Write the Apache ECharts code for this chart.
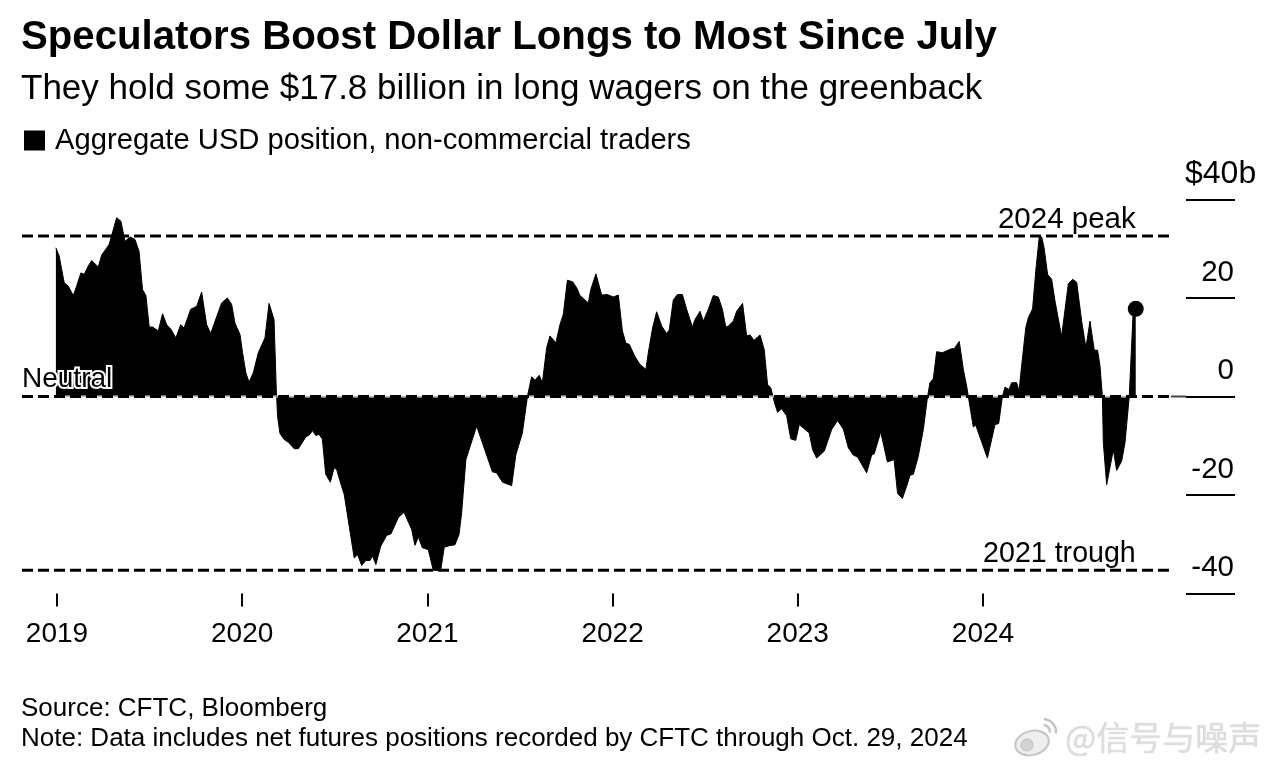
<!DOCTYPE html>
<html>
<head>
<meta charset="utf-8">
<title>Speculators Boost Dollar Longs</title>
<script src="https://cdn.jsdelivr.net/npm/echarts@6/dist/echarts.min.js"></script>
<style>
    html, body { margin: 0; padding: 0; background: #fff; }
    #chart { width: 1276px; height: 770px; }
</style>
</head>
<body>
<div id="chart"></div>
<script>
// x is a decimal year
var years = [
    2018.994, 2019.012, 2019.025, 2019.039, 2019.061, 2019.088, 2019.106, 2019.129, 2019.147, 2019.169,
    2019.187, 2019.223, 2019.241, 2019.282, 2019.322, 2019.345, 2019.367, 2019.394, 2019.421, 2019.443,
    2019.462, 2019.480, 2019.498, 2019.516, 2019.547, 2019.570, 2019.592, 2019.614, 2019.642, 2019.668,
    2019.686, 2019.722, 2019.754, 2019.781, 2019.808, 2019.830, 2019.840, 2019.889, 2019.920, 2019.943,
    2019.961, 2019.988, 2020.002, 2020.020, 2020.037, 2020.060, 2020.087, 2020.123, 2020.145, 2020.154,
    2020.172, 2020.184, 2020.186, 2020.191, 2020.204, 2020.226, 2020.249, 2020.281, 2020.303, 2020.344,
    2020.366, 2020.379, 2020.397, 2020.416, 2020.433, 2020.451, 2020.476, 2020.496, 2020.510, 2020.542,
    2020.551, 2020.605, 2020.623, 2020.645, 2020.668, 2020.690, 2020.704, 2020.722, 2020.748, 2020.780,
    2020.803, 2020.843, 2020.874, 2020.915, 2020.933, 2020.951, 2020.973, 2021.005, 2021.032, 2021.072,
    2021.091, 2021.118, 2021.149, 2021.171, 2021.185, 2021.208, 2021.266, 2021.275, 2021.351, 2021.374,
    2021.406, 2021.455, 2021.478, 2021.513, 2021.541, 2021.563, 2021.581, 2021.604, 2021.621, 2021.644,
    2021.662, 2021.694, 2021.716, 2021.734, 2021.756, 2021.784, 2021.806, 2021.824, 2021.869, 2021.882,
    2021.910, 2021.919, 2021.941, 2021.972, 2022.004, 2022.031, 2022.053, 2022.072, 2022.090, 2022.121,
    2022.148, 2022.180, 2022.193, 2022.216, 2022.238, 2022.265, 2022.292, 2022.306, 2022.328, 2022.350,
    2022.377, 2022.400, 2022.431, 2022.445, 2022.472, 2022.490, 2022.517, 2022.544, 2022.571, 2022.593,
    2022.611, 2022.625, 2022.652, 2022.670, 2022.702, 2022.724, 2022.742, 2022.764, 2022.774, 2022.796,
    2022.819, 2022.837, 2022.854, 2022.866, 2022.877, 2022.891, 2022.913, 2022.940, 2022.962, 2022.989,
    2023.008, 2023.062, 2023.080, 2023.102, 2023.143, 2023.183, 2023.215, 2023.246, 2023.273, 2023.300,
    2023.323, 2023.372, 2023.399, 2023.413, 2023.448, 2023.484, 2023.520, 2023.539, 2023.565, 2023.588,
    2023.606, 2023.624, 2023.651, 2023.678, 2023.701, 2023.714, 2023.732, 2023.750, 2023.781, 2023.831,
    2023.845, 2023.872, 2023.894, 2023.912, 2023.921, 2023.934, 2023.948, 2023.961, 2024.024, 2024.047,
    2024.065, 2024.085, 2024.105, 2024.119, 2024.141, 2024.155, 2024.182, 2024.195, 2024.204, 2024.231,
    2024.245, 2024.268, 2024.286, 2024.304, 2024.317, 2024.330, 2024.349, 2024.371, 2024.389, 2024.421,
    2024.425, 2024.461, 2024.484, 2024.506, 2024.533, 2024.556, 2024.578, 2024.601, 2024.619, 2024.632,
    2024.645, 2024.650, 2024.668, 2024.704, 2024.722, 2024.749, 2024.767, 2024.785, 2024.790, 2024.810,
    2024.825
];
var positions = [
    30.2, 28.5, 25.8, 23.1, 22.4, 20.5, 22.4, 25.1, 24.8, 26.5,
    27.6, 26.3, 28.7, 30.9, 36.3, 35.6, 31.5, 32.4, 31.9, 29.5,
    21.7, 20.5, 14.1, 14.1, 13.3, 16.8, 14.6, 13.7, 11.9, 14.6,
    13.9, 17.7, 18.3, 21.2, 14.6, 12.8, 12.8, 19.0, 20.0, 18.7,
    14.9, 12.6, 8.9, 4.8, 2.9, 4.8, 8.9, 11.9, 18.9, 18.9,
    15.6, 1.4, 0, -4.0, -7.5, -8.7, -9.3, -10.6, -10.6, -8.2,
    -7.7, -6.9, -7.9, -7.7, -8.7, -15.8, -17.4, -14.5, -14.8, -18.9,
    -19.9, -32.8, -32.1, -34.3, -33.3, -33.3, -32.4, -34.1, -30.4, -28.2,
    -27.9, -24.6, -23.5, -27.0, -30.2, -28.5, -30.7, -31.1, -35.3, -35.3,
    -30.6, -30.3, -30.1, -28.0, -23.6, -12.8, -6.0, -6.0, -15.3, -15.5,
    -17.4, -18.1, -11.8, -7.4, 0.2, 4.0, 3.3, 4.3, 2.8, 9.9,
    12.3, 10.9, 14.6, 16.7, 23.6, 23.3, 22.1, 20.5, 19.0, 21.7,
    24.9, 24.8, 20.6, 20.7, 20.2, 20.6, 13.3, 10.8, 10.6, 8.1,
    6.5, 5.5, 8.9, 13.9, 17.2, 14.3, 12.8, 13.5, 19.6, 20.7,
    20.7, 17.7, 14.1, 15.6, 17.3, 15.3, 17.7, 20.5, 20.2, 17.7,
    14.1, 14.3, 15.3, 17.3, 18.9, 12.3, 12.5, 11.4, 11.6, 12.5,
    9.5, 2.4, 1.8, 0, -1.6, -3.2, -2.5, -3.9, -8.6, -8.9,
    -5.7, -7.4, -10.8, -12.5, -11.1, -6.7, -4.9, -6.6, -10.4, -11.9,
    -12.3, -15.5, -11.9, -11.6, -7.2, -13.3, -12.8, -19.7, -20.7, -18.2,
    -16.0, -15.8, -12.1, -6.7, 0, 2.8, 3.6, 9.1, 8.9, 9.7,
    9.7, 11.2, 5.5, 2.1, 0, -3.0, -6.2, -5.8, -12.5, -8.7,
    -5.7, -5.5, 0, 1.9, 1.4, 2.8, 2.8, 1.1, 4.5, 13.9,
    16.0, 17.8, 25.8, 32.4, 32.4, 30.2, 24.8, 23.8, 19.4, 12.9,
    12.3, 22.9, 23.8, 23.2, 15.3, 9.9, 15.3, 9.4, 9.4, 6.2,
    0, -9.4, -17.9, -10.8, -15.0, -13.1, -9.4, -2.0, 0, 16.3,
    17.8
];
var yearTicks = [2019, 2020, 2021, 2022, 2023, 2024];
var valueTicks = [-40, -20, 0, 20, 40];
var peakValue = 32.6;
var troughValue = -35.3;
var lastYear = 2024.825;
var lastValue = 17.8;

var xMin = 2018.811;
var xMax = 2025.361;
var lineEnd = 2025.015;
var railEnd = 2025.097;

var FONT = '"Liberation Sans", Arimo, Helvetica, Arial, sans-serif';
var LEGEND_NAME = 'Aggregate USD position, non-commercial traders';

var areaData = [];
for (var i = 0; i < years.length; i++) {
    areaData.push([years[i], positions[i]]);
}

// dashed reference line helper
function dashLine(value, end) {
    return {
        type: 'line',
        silent: true,
        symbol: 'none',
        z: 4,
        lineStyle: { color: '#000', width: 3, type: [11, 5] },
        data: [[xMin, value], [end, value]]
    };
}

// text tied to a data point, no marker drawn
function noteLabel(text, x, y, pos, align, size, gap, halo) {
    return {
        type: 'scatter',
        silent: true,
        symbolSize: 0,
        z: 6,
        itemStyle: { opacity: 1 },
        data: [[x, y]],
        label: {
            show: true,
            position: pos,
            distance: gap,
            align: align,
            opacity: 1,
            formatter: text,
            fontFamily: FONT,
            fontSize: size,
            color: '#000',
            textBorderColor: halo ? '#fff' : 'transparent',
            textBorderWidth: halo ? 4 : 0
        }
    };
}

function textBlock(text, left, top, size, weight) {
    return {
        text: text,
        left: left,
        top: top,
        padding: 0,
        textStyle: { fontFamily: FONT, fontSize: size, fontWeight: weight, color: '#000' }
    };
}

var chart = echarts.init(document.getElementById('chart'));
chart.setOption({
    animation: false,
    backgroundColor: '#fff',
    textStyle: { fontFamily: FONT },
    title: [
        textBlock('Speculators Boost Dollar Longs to Most Since July', 21, 18, 40.2, 'bold'),
        textBlock('They hold some $17.8 billion in long wagers on the greenback', 21, 72, 35, 'normal'),
        textBlock('$40b', 1185, 158, 32, 'normal'),
        textBlock('Source: CFTC, Bloomberg', 21, 696, 26, 'normal'),
        textBlock('Note: Data includes net futures positions recorded by CFTC through Oct. 29, 2024', 21, 726, 26, 'normal'),
        {
            text: '@信号与噪声',
            left: 1065,
            top: 721,
            padding: 0,
            textStyle: {
                fontFamily: '"Noto Sans CJK SC"',
                fontSize: 33,
                fontWeight: 'normal',
                color: '#dedede',
                textShadowColor: '#c4c4c4',
                textShadowBlur: 1
            }
        }
    ],
    // weibo mark next to the watermark
    graphic: [
        { type: 'ellipse', shape: { cx: 1032, cy: 743, rx: 17, ry: 12 }, style: { fill: '#eeeeee', stroke: '#c4c4c4', lineWidth: 2 }, rotation: 0.25, originX: 1032, originY: 743 },
        { type: 'circle', shape: { cx: 1027, cy: 745, r: 6 }, style: { fill: '#d2d2d2', stroke: '#bdbdbd', lineWidth: 1 } },
        { type: 'arc', shape: { cx: 1043, cy: 732, r: 7, startAngle: -1.5, endAngle: 0.1 }, style: { stroke: '#c4c4c4', lineWidth: 2.5, fill: 'none' } },
        { type: 'arc', shape: { cx: 1043, cy: 732, r: 13, startAngle: -1.5, endAngle: 0.1 }, style: { stroke: '#c4c4c4', lineWidth: 2.5, fill: 'none' } }
    ],
    legend: {
        left: 24,
        top: 126,
        padding: 0,
        itemWidth: 21,
        itemHeight: 20,
        itemGap: 8,
        icon: 'rect',
        selectedMode: false,
        data: [LEGEND_NAME],
        textStyle: { fontFamily: FONT, fontSize: 29.2, color: '#000', padding: [0, 0, 0, 5] }
    },
    grid: { left: 22, right: 41, top: 199.5, bottom: 176.5 },
    xAxis: {
        type: 'value',
        min: xMin,
        max: xMax,
        splitLine: { show: false },
        axisLine: { show: false, onZero: false },
        axisTick: { show: true, length: 13, lineStyle: { color: '#000', width: 2 }, customValues: yearTicks },
        axisLabel: {
            show: true,
            margin: 27,
            fontFamily: FONT,
            fontSize: 28,
            color: '#000',
            customValues: yearTicks,
            formatter: function (v) { return String(v); }
        }
    },
    yAxis: {
        type: 'value',
        position: 'right',
        min: -40,
        max: 40,
        interval: 20,
        splitLine: { show: false },
        axisLine: { show: false },
        axisTick: { show: true, inside: true, length: 49, lineStyle: { color: '#000', width: 2 } },
        axisLabel: {
            show: true,
            inside: true,
            margin: 1,
            verticalAlign: 'bottom',
            lineHeight: 51,
            fontFamily: FONT,
            fontSize: 29.5,
            color: '#000',
            formatter: function (v) { return v === valueTicks[4] ? '' : String(v); }
        }
    },
    series: [
        {
            name: LEGEND_NAME,
            type: 'line',
            symbol: 'none',
            smooth: false,
            z: 2,
            lineStyle: { width: 1, color: '#000' },
            itemStyle: { color: '#000' },
            areaStyle: { color: '#000', opacity: 1, origin: 0 },
            data: areaData
        },
        // the neutral line shows grey between its dashes over the black area
        {
            type: 'line',
            silent: true,
            symbol: 'none',
            z: 3,
            lineStyle: { color: '#fff', opacity: 0.45, width: 3 },
            data: [[xMin, 0], [lineEnd, 0]]
        },
        {
            type: 'line',
            silent: true,
            symbol: 'none',
            z: 3,
            lineStyle: { color: '#444', width: 2 },
            data: [[lineEnd, 0], [railEnd, 0]]
        },
        dashLine(0, lineEnd),
        dashLine(peakValue, lineEnd),
        dashLine(troughValue, lineEnd),
        noteLabel('2024 peak', lastYear, peakValue, 'top', 'right', 29.5, 1, false),
        noteLabel('2021 trough', lastYear, troughValue, 'top', 'right', 28.6, 2, false),
        noteLabel('Neutral', xMin, 0, 'top', 'left', 28, 3, true),
        {
            type: 'scatter',
            silent: true,
            symbol: 'circle',
            symbolSize: 16,
            z: 5,
            itemStyle: { color: '#000', opacity: 1 },
            data: [[lastYear, lastValue]]
        }
    ]
});
</script>
</body>
</html>
